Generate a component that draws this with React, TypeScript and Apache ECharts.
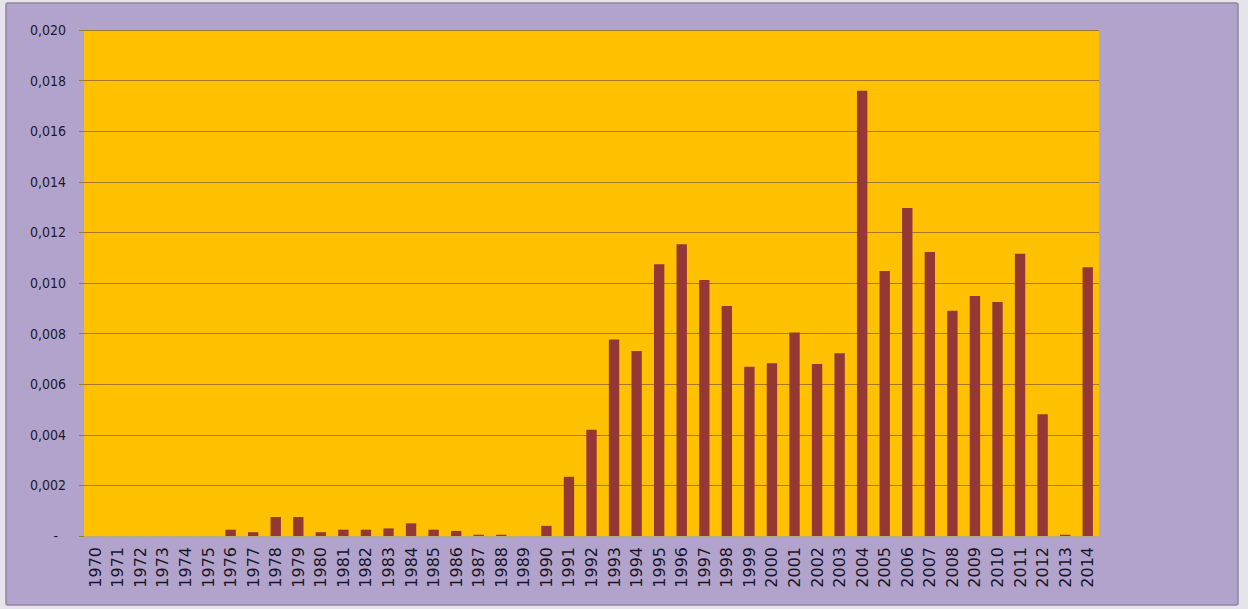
import React, { useEffect, useRef } from "react";
import * as echarts from "echarts";

// Years on the category axis
const years: string[] = [
  "1970", "1971", "1972", "1973", "1974", "1975", "1976", "1977", "1978", "1979",
  "1980", "1981", "1982", "1983", "1984", "1985", "1986", "1987", "1988", "1989",
  "1990", "1991", "1992", "1993", "1994", "1995", "1996", "1997", "1998", "1999",
  "2000", "2001", "2002", "2003", "2004", "2005", "2006", "2007", "2008", "2009",
  "2010", "2011", "2012", "2013", "2014",
];

// Yearly values
const values: number[] = [
  0, 0, 0, 0, 0, 0, 0.00025, 0.00015, 0.00075, 0.00075,
  0.00015, 0.00025, 0.00025, 0.0003, 0.0005, 0.00025, 0.0002, 0.00005, 0.00005, 0,
  0.0004, 0.00234, 0.0042, 0.00777, 0.00731, 0.01074, 0.01153, 0.01012, 0.00909, 0.00669,
  0.00683, 0.00804, 0.0068, 0.00722, 0.0176, 0.01047, 0.01296, 0.01123, 0.0089, 0.00949,
  0.00925, 0.01116, 0.00481, 0.00005, 0.01062,
];

// Value axis range
const yMin = 0;
const yMax = 0.02;
const yStep = 0.002;

const formatTick = (v: number): string =>
  v === 0 ? "{dash|-}" : v.toFixed(3).replace(".", ",");

export default function App() {
  const ref = useRef<HTMLDivElement>(null);

  useEffect(() => {
    if (!ref.current) return;
    const chart = echarts.init(ref.current, undefined, { renderer: "svg" });
    chart.setOption({
      animation: false,
      backgroundColor: "#E6E3EA",
      graphic: [
        {
          type: "rect",
          z: -10,
          silent: true,
          shape: { x: 6, y: 3, width: 1232, height: 602, r: 2 },
          style: { fill: "#B2A3CD", stroke: "#8E859C", lineWidth: 1.5 },
        },
      ],
      grid: {
        left: 84,
        right: 149,
        top: 30,
        bottom: 73,
        show: true,
        backgroundColor: "#FFC000",
        borderWidth: 0,
      },
      xAxis: {
        type: "category",
        data: years,
        axisLine: { show: true, lineStyle: { color: "#B9A98A", width: 1 } },
        axisTick: { show: true, alignWithLabel: false, length: 4, lineStyle: { color: "#B9A98A" } },
        axisLabel: {
          rotate: 90,
          interval: 0,
          margin: 11,
          color: "#1A1626",
          fontFamily: "DejaVu Sans",
          fontSize: 16,
        },
      },
      yAxis: {
        type: "value",
        min: yMin,
        max: yMax,
        interval: yStep,
        axisLine: { show: false },
        axisTick: { show: true, length: 5, lineStyle: { color: "#9C7A2E" } },
        splitLine: { show: true, lineStyle: { color: "#A07A2A", width: 1.2 } },
        axisLabel: {
          formatter: formatTick,
          margin: 18,
          color: "#1E1A2A",
          fontFamily: "'DejaVu Sans Condensed', 'Liberation Sans Narrow', 'Liberation Sans', sans-serif",
          fontSize: 14,
          rich: {
            dash: {
              fontSize: 14,
              color: "#1E1A2A",
              padding: [0, 8, 0, 0],
            },
          },
        },
      },
      series: [
        {
          type: "bar",
          data: values,
          barWidth: "46%",
          itemStyle: { color: "#953735" },
        },
      ],
    });
    return () => chart.dispose();
  }, []);

  return (
    <div
      ref={ref}
      style={{ position: "absolute", left: 0, top: 0, width: 1248, height: 609 }}
    />
  );
}
